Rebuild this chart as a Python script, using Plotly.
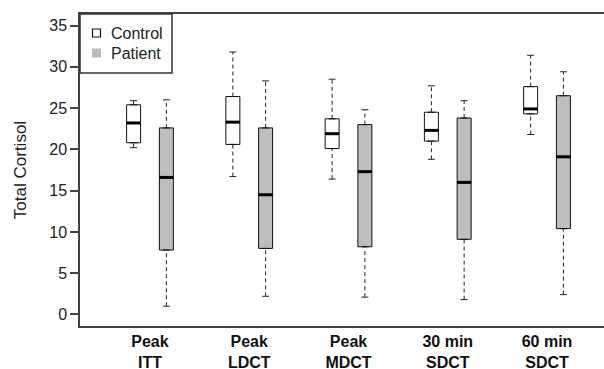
import plotly.graph_objects as go

categories = ["Peak<br>ITT", "Peak<br>LDCT", "Peak<br>MDCT", "30 min<br>SDCT", "60 min<br>SDCT"]
control_min = [20.2, 16.7, 16.4, 18.8, 21.8]
control_q1 = [20.8, 20.6, 20.1, 21.0, 24.3]
control_med = [23.2, 23.3, 21.9, 22.3, 24.9]
control_q3 = [25.4, 26.4, 23.7, 24.5, 27.6]
control_max = [25.9, 31.8, 28.5, 27.7, 31.4]
patient_min = [1.0, 2.2, 2.1, 1.8, 2.4]
patient_q1 = [7.8, 8.0, 8.2, 9.1, 10.4]
patient_med = [16.6, 14.5, 17.3, 16.0, 19.1]
patient_q3 = [22.6, 22.6, 23.0, 23.8, 26.5]
patient_max = [26.0, 28.3, 24.8, 25.9, 29.4]
y_ticks = [0, 5, 10, 15, 20, 25, 30, 35]
legend_labels = ["Control", "Patient"]
legend_fills = ["white", "#bebebe"]

group_pos = list(range(1, len(categories) + 1))
OFF = 0.165
BW = 0.141
CAP = 0.035
ctrl_pos = [g - OFF for g in group_pos]
pat_pos = [g + OFF for g in group_pos]

FONT = "Liberation Sans, Arial, sans-serif"
W, H = 604, 369
ML, MR, MT, MB = 80, 0, 14, 43
PW, PH = W - ML - MR, H - MT - MB
fig = go.Figure()


def add_series(pos, mn, q1, med, q3, mx, fill):
    wx, wy, cx, cy, mx_, my_ = [], [], [], [], [], []
    for p, a, b, c, d, e in zip(pos, mn, q1, med, q3, mx):
        wx += [p, p, None, p, p, None]
        wy += [d, e, None, a, b, None]
        cx += [p - CAP, p + CAP, None, p - CAP, p + CAP, None]
        cy += [e, e, None, a, a, None]
        mx_ += [p - BW / 2, p + BW / 2, None]
        my_ += [c, c, None]
    fig.add_trace(go.Scatter(x=wx, y=wy, mode="lines", showlegend=False, hoverinfo="skip",
                             line=dict(color="#222", width=1, dash="4px,3px")))
    fig.add_trace(go.Box(x=pos, q1=q1, median=med, q3=q3, lowerfence=q1, upperfence=q3,
                         width=BW, fillcolor=fill, line=dict(color="#111", width=1),
                         boxpoints=False, showlegend=False, hoverinfo="skip"))
    fig.add_trace(go.Scatter(x=cx, y=cy, mode="lines", showlegend=False, hoverinfo="skip",
                             line=dict(color="#222", width=1)))
    fig.add_trace(go.Scatter(x=mx_, y=my_, mode="lines", showlegend=False, hoverinfo="skip",
                             line=dict(color="black", width=3)))


add_series(ctrl_pos, control_min, control_q1, control_med, control_q3, control_max, "white")
add_series(pat_pos, patient_min, patient_q1, patient_med, patient_q3, patient_max, "#bebebe")

# manual legend (paper coordinates)
def px_x(x):
    return (x - ML) / PW


def px_y(y):
    return 1 - (y - MT) / PH


shapes = [dict(type="rect", xref="paper", yref="paper", x0=px_x(80), x1=px_x(172),
               y0=px_y(73), y1=px_y(14), line=dict(color="#333", width=1.5), fillcolor="white",
               layer="above")]
annotations = []
for i, (lab, fc) in enumerate(zip(legend_labels, legend_fills)):
    cy = 33 + 20 * i
    if fc == "white":
        shapes.append(dict(type="rect", xref="paper", yref="paper", x0=px_x(92.5), x1=px_x(100.5),
                           y0=px_y(cy + 4), y1=px_y(cy - 4), line=dict(color="#111", width=1.2),
                           fillcolor=fc, layer="above"))
    else:
        shapes.append(dict(type="rect", xref="paper", yref="paper", x0=px_x(92), x1=px_x(101),
                           y0=px_y(cy + 4.5), y1=px_y(cy - 4.5), line=dict(width=0),
                           fillcolor=fc, layer="above"))
    annotations.append(dict(xref="paper", yref="paper", x=px_x(109), y=px_y(cy), text=lab,
                            showarrow=False, xanchor="left", yanchor="middle",
                            font=dict(size=16, color="#222", family=FONT)))

fig.update_layout(
    width=W, height=H,
    margin=dict(l=ML, r=MR, t=MT, b=MB),
    paper_bgcolor="white", plot_bgcolor="white",
    font=dict(family=FONT, size=16, color="#222"),
    showlegend=False,
    boxmode="overlay",
    shapes=shapes, annotations=annotations,
)
fig.update_xaxes(range=[0.295, 5.574], tickvals=group_pos,
                 ticktext=["<b>" + c.replace("<br>", "</b><br><b>") + "</b>" for c in categories],
                 ticks="", showline=True, mirror=True, linecolor="#444", linewidth=1.5,
                 showgrid=False, zeroline=False, tickfont=dict(size=16, color="#111"),
                 automargin=False)
fig.update_yaxes(range=[-1.4, 36.4], tickvals=y_ticks, ticks="outside", ticklen=8,
                 tickcolor="#444", tickwidth=1.5, showline=True, mirror=False,
                 linecolor="#444", linewidth=1.5, showgrid=False, zeroline=False,
                 title=dict(text="Total Cortisol", font=dict(size=17, color="#222"), standoff=18),
                 tickfont=dict(size=16, color="#222"), automargin=False)

fig.write_html("out.html", post_script="document.body.style.margin='0';",
               config={"displayModeBar": False})
